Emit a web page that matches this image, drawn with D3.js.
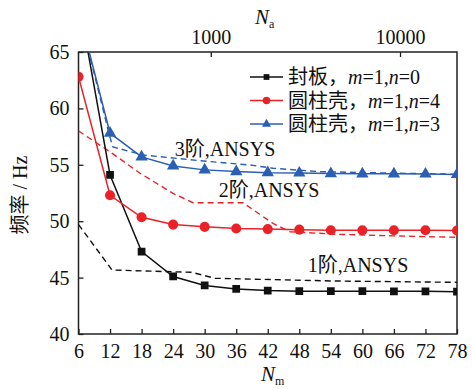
<!DOCTYPE html>
<html>
<head>
<meta charset="utf-8">
<script src="https://cdn.jsdelivr.net/npm/d3@7"></script>
<style>
  body { margin: 0; background: #fff; }
  svg text { font-family: "Liberation Serif", "Times New Roman", "Noto Sans CJK SC", serif; fill: #111; }
</style>
</head>
<body>
<div id="chart"></div>
<script>
// mesh count along meridian (bottom axis)
const nm = [6, 12, 18, 24, 30, 36, 42, 48, 54, 60, 66, 72, 78];
// computed frequencies (Hz)
const plate = [69.7, 54.1, 47.3, 45.1, 44.3, 44.0, 43.85, 43.8, 43.8, 43.8, 43.78, 43.78, 43.75];
const shell4 = [62.8, 52.3, 50.35, 49.7, 49.5, 49.35, 49.3, 49.25, 49.2, 49.2, 49.2, 49.2, 49.18];
const shell3 = [68.7, 57.8, 55.7, 54.9, 54.55, 54.4, 54.3, 54.27, 54.22, 54.2, 54.2, 54.18, 54.15];

// ANSYS reference curves, against element count N_a (top axis)
const ansys1_na = [200, 301, 793, 1052, 4424, 20000];
const ansys1_f = [49.7, 45.67, 45.47, 44.94, 44.7, 44.58];
const ansys2_na = [200, 293, 423, 631, 805, 1479, 2132, 2623, 4645, 9180, 20000];
const ansys2_f = [58.0, 56.16, 54.25, 52.47, 51.64, 51.64, 49.8, 49.07, 48.84, 48.7, 48.57];
const ansys3_na = [200, 293, 304, 438, 875, 1618, 2135, 3783, 8870, 20000];
const ansys3_f = [68.7, 57.46, 56.58, 55.87, 55.36, 54.98, 54.69, 54.39, 54.27, 54.16];

const yTicks = [40, 45, 50, 55, 60, 65];
const topTicks = [1000, 10000];

const W = 472, H = 389;
const x0 = 78.5, x1 = 457, y0 = 52, y1 = 334;
const FONT = '"Liberation Serif", "Times New Roman", "Noto Sans CJK SC", serif';

const svg = d3.select('#chart').append('svg')
    .attr('width', W).attr('height', H)
    .attr('font-family', FONT);

const x = d3.scaleLinear().domain([6, 78]).range([x0, x1]);
const xa = d3.scaleLog().domain([200, 20000]).range([x0, x1]);
const y = d3.scaleLinear().domain([40, 65]).range([y1, y0]);

svg.append('clipPath').attr('id', 'clip')
    .append('rect').attr('x', x0).attr('y', y0).attr('width', x1 - x0).attr('height', y1 - y0);

// axes
svg.append('g')
    .attr('transform', `translate(0, ${y1})`)
    .call(d3.axisBottom(x).tickValues(nm).tickSizeInner(-5).tickSizeOuter(0).tickPadding(10));

svg.append('g')
    .attr('transform', `translate(${x0}, 0)`)
    .call(d3.axisLeft(y).tickValues(yTicks).tickSizeInner(-5).tickSizeOuter(0).tickPadding(9));

svg.append('g')
    .attr('transform', `translate(0, ${y0})`)
    .call(d3.axisTop(xa).tickValues(topTicks).tickFormat(d3.format('d')).tickSizeInner(-5).tickSizeOuter(0).tickPadding(8));

svg.selectAll('.tick text').attr('font-size', 20).attr('font-family', FONT).attr('fill', '#111');
svg.selectAll('g').attr('font-family', FONT);
svg.selectAll('.domain').remove();
svg.selectAll('.tick line').attr('stroke', '#222').attr('stroke-width', 1.3);

// frame
svg.append('rect')
    .attr('x', x0).attr('y', y0).attr('width', x1 - x0).attr('height', y1 - y0)
    .attr('fill', 'none').attr('stroke', '#222').attr('stroke-width', 1.5);

const plot = svg.append('g').attr('clip-path', 'url(#clip)');

const lineM = d3.line().x(d => x(d[0])).y(d => y(d[1]));
const lineA = d3.line().x(d => xa(d[0])).y(d => y(d[1]));

const red = '#ea2227', blue = '#2b5fb4', black = '#111';

// ANSYS dashed
[[ansys1_na, ansys1_f, black], [ansys2_na, ansys2_f, red], [ansys3_na, ansys3_f, blue]].forEach(([na, f, c]) => {
    plot.append('path')
        .attr('d', lineA(d3.zip(na, f)))
        .attr('fill', 'none').attr('stroke', c).attr('stroke-width', 1.4)
        .attr('stroke-dasharray', '6,4');
});

const series = [
    { vals: plate, color: black, sym: d3.symbolSquare, size: 60 },
    { vals: shell4, color: red, sym: d3.symbolCircle, size: 80 },
    { vals: shell3, color: blue, sym: d3.symbolTriangle, size: 66 }
];

series.forEach(s => {
    const pts = d3.zip(nm, s.vals);
    plot.append('path')
        .attr('d', lineM(pts))
        .attr('fill', 'none').attr('stroke', s.color).attr('stroke-width', 1.5);
    plot.selectAll(null)
        .data(pts.filter(p => p[1] <= 65))
        .enter().append('path')
        .attr('d', d3.symbol().type(s.sym).size(s.size))
        .attr('transform', p => `translate(${x(p[0])}, ${y(p[1])})`)
        .attr('fill', s.color);
});

// legend
const legendLabels = [
    ['封板，', '0'],
    ['圆柱壳，', '4'],
    ['圆柱壳，', '3']
];
legendLabels.forEach((lab, i) => {
    const ly = 77 + i * 23.5;
    const s = series[i];
    svg.append('line')
        .attr('x1', 250).attr('x2', 283).attr('y1', ly).attr('y2', ly)
        .attr('stroke', s.color).attr('stroke-width', 1.5);
    svg.append('path')
        .attr('d', d3.symbol().type(s.sym).size(s.size * 0.55))
        .attr('transform', `translate(266.5, ${ly})`)
        .attr('fill', s.color);
    const t = svg.append('text').attr('x', 288).attr('y', ly + 7).attr('font-size', 20);
    t.append('tspan').text(lab[0]);
    t.append('tspan').attr('font-style', 'italic').text('m');
    t.append('tspan').text('=1,');
    t.append('tspan').attr('font-style', 'italic').text('n');
    t.append('tspan').text('=' + lab[1]);
});

// annotations
const notes = [['3阶,ANSYS', 225, 156], ['2阶,ANSYS', 269, 197], ['1阶,ANSYS', 358, 272]];
notes.forEach(n => {
    svg.append('text').attr('x', n[1]).attr('y', n[2])
        .attr('text-anchor', 'middle').attr('font-size', 20).text(n[0]);
});

// axis titles
const bt = svg.append('text').attr('x', 261).attr('y', 381).attr('font-size', 21);
bt.append('tspan').attr('font-style', 'italic').text('N');
bt.append('tspan').attr('font-size', 12).attr('dy', 4).text('m');

const tt = svg.append('text').attr('x', 255).attr('y', 24).attr('font-size', 21);
tt.append('tspan').attr('font-style', 'italic').text('N');
tt.append('tspan').attr('font-size', 12).attr('dy', 4).text('a');

svg.append('text')
    .attr('transform', 'translate(27, 195) rotate(-90)')
    .attr('text-anchor', 'middle').attr('font-size', 20)
    .text('频率 / Hz');
</script>
</body>
</html>
